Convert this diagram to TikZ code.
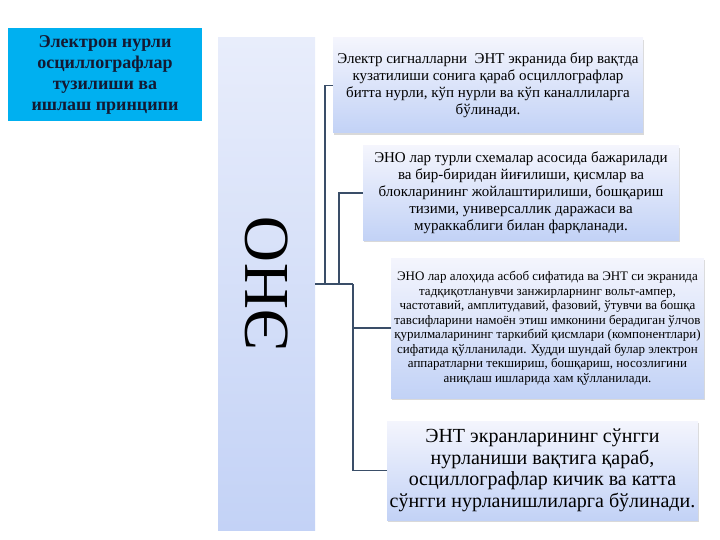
\documentclass[tikz,border=0pt]{standalone}
\usepackage{fontspec}
\setmainfont{Liberation Serif}
\usepackage{tikz}
\usetikzlibrary{positioning, shadows}
\definecolor{titlecyan}{RGB}{0,176,240}
\definecolor{titletext}{RGB}{20,25,50}
\definecolor{boxtop}{RGB}{244,245,253}
\definecolor{boxbottom}{RGB}{194,210,246}
\definecolor{bartop}{RGB}{232,237,251}
\definecolor{barbottom}{RGB}{195,210,246}
\definecolor{linkline}{RGB}{58,78,104}
\tikzstyle{infobox} = [rectangle, top color=boxtop, bottom color=boxbottom, align=center, inner sep=0pt, drop shadow={shadow xshift=1pt, shadow yshift=-2pt, opacity=0.3}]
\tikzstyle{link} = [draw=linkline, line width=1.6pt]

\begin{document}
\begin{tikzpicture}[x=1pt, y=-1pt]
        \useasboundingbox (0,0) rectangle (720,540);

        \node[fill=titlecyan, minimum width=194pt, minimum height=93pt, inner sep=0pt, text=titletext, font=\bfseries\fontsize{18}{21}\selectfont, align=center] (title) at (105,74.5) {Электрон нурли\\осциллографлар\\тузилиши ва\\ишлаш принципи};

        \node[rectangle, top color=bartop, bottom color=barbottom, minimum width=97pt, minimum height=492pt, inner sep=0pt] (eno) at (266.5,284) {};
        \node[rotate=90, font=\fontsize{64}{64}\selectfont] (enolabel) at (eno.center) {ЭНО};

        \node[infobox, minimum width=310pt, minimum height=95pt, font=\fontsize{15}{17}\selectfont] (box1) at (488,85.5) {Электр сигналларни \ ЭНТ экранида бир вақтда\\кузатилиши сонига қараб осциллографлар\\битта нурли, кўп нурли ва кўп каналлиларга\\бўлинади.};
        \node[infobox, minimum width=316pt, minimum height=94pt, font=\fontsize{15}{17}\selectfont] (box2) at (521,193) {ЭНО лар турли схемалар асосида бажарилади\\ва бир-биридан йиғилиши, қисмлар ва\\блокларининг жойлаштирилиши, бошқариш\\тизими, универсаллик даражаси ва\\мураккаблиги билан фарқланади.};
        \node[infobox, minimum width=313pt, minimum height=140pt, font=\fontsize{13}{14.5}\selectfont] (box3) at (547.5,328) {ЭНО лар алоҳида асбоб сифатида ва ЭНТ си экранида\\тадқиқотланувчи занжирларнинг вольт-ампер,\\частотавий, амплитудавий, фазовий, ўтувчи ва бошқа\\тавсифларини намоён этиш имконини берадиган ўлчов\\қурилмаларининг таркибий қисмлари (компонентлари)\\сифатида қўлланилади. Худди шундай булар электрон\\аппаратларни текшириш, бошқариш, носозлигини\\аниқлаш ишларида хам қўлланилади.};
        \node[infobox, minimum width=311pt, minimum height=99pt, font=\fontsize{20}{21.5}\selectfont] (box4) at (542.5,470.5) {ЭНТ экранларининг сўнгги\\нурланиши вақтига қараб,\\осциллографлар кичик ва катта\\сўнгги нурланишлиларга бўлинади.};

        \coordinate[right=10pt of eno.east] (split1);
        \coordinate[right=24pt of eno.east] (split2);
        \coordinate[right=38pt of eno.east] (hub);

        \draw[link] (eno.east) -- (hub);
        \draw[link] (split1) |- (box1.west);
        \draw[link] (split2) |- (box2.west);
        \draw[link] (hub) |- (box3.west);
        \draw[link] (hub) |- (box4.west);

    \end{tikzpicture}
\end{document}
